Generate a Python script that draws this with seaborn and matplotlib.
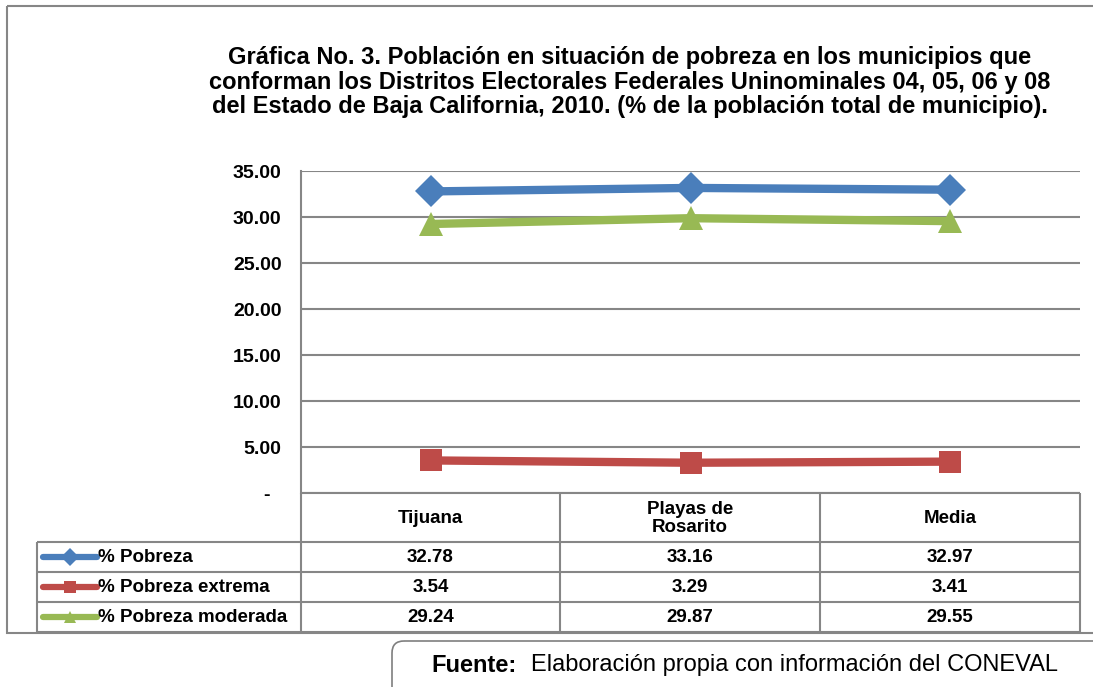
import matplotlib
matplotlib.use("Agg")
import matplotlib.pyplot as plt
import seaborn as sns
from matplotlib.patches import Rectangle, FancyBboxPatch

sns.set_style("white")
plt.rcParams["font.family"] = ["Liberation Sans", "DejaVu Sans"]
plt.rcParams["text.color"] = "black"
plt.rcParams["ytick.color"] = "black"

# data
municipios = ["Tijuana", "Playas de\nRosarito", "Media"]
series_names = ["% Pobreza", "% Pobreza extrema", "% Pobreza moderada"]
pobreza = [32.78, 33.16, 32.97]
pobreza_extrema = [3.54, 3.29, 3.41]
pobreza_moderada = [29.24, 29.87, 29.55]
y_ticks = [0, 5, 10, 15, 20, 25, 30, 35]

series_values = [pobreza, pobreza_extrema, pobreza_moderada]
colors = ["#4A7EBB", "#BE4B48", "#98B954"]
markers = ["D", "s", "^"]
msizes = [16, 16, 17]

W, H = 1093, 687
fig = plt.figure(figsize=(W / 100, H / 100), dpi=100)

def box(x0, y0, x1, y1):
    return [x0 / W, 1 - y1 / H, (x1 - x0) / W, (y1 - y0) / H]

# overlay in pixel coordinates for frame, table and notes
ov = fig.add_axes([0, 0, 1, 1])
ov.set_xlim(0, W)
ov.set_ylim(H, 0)
ov.axis("off")

gray = "#868686"
ov.add_patch(Rectangle((7, 6), W, 627, fill=False, ec=gray, lw=1.5))

# main plot
ax = fig.add_axes(box(301, 171, 1080, 493))
for name, vals, c, m, ms in zip(series_names, series_values, colors, markers, msizes):
    sns.lineplot(x=municipios, y=vals, ax=ax, color=c, lw=6, marker=m,
                 markersize=ms, markeredgewidth=0, sort=False, label=name,
                 legend=False)
ax.set_xlim(-0.5, 2.5)
ax.set_ylim(0, 35)
ax.set_yticks(y_ticks)
ax.set_yticklabels([f"{v:.2f}" if v else "-  " for v in y_ticks],
                   fontweight="bold", fontsize=14)
ax.tick_params(axis="y", length=0, pad=14, labelcolor="black")
ax.set_xticks([])
ax.grid(axis="y", color=gray, lw=1.5)
ax.set_axisbelow(True)
for s in ["top", "right", "bottom"]:
    ax.spines[s].set_visible(False)
ax.spines["left"].set_color(gray)
ax.spines["left"].set_linewidth(1.5)
ax.set_xlabel("")
ax.set_ylabel("")
ax.patch.set_alpha(0)

# title
ov.text(630, 82, "Gráfica No. 3. Población en situación de pobreza en los municipios que\n"
        "conforman los Distritos Electorales Federales Uninominales 04, 05, 06 y 08\n"
        "del Estado de Baja California, 2010. (% de la población total de municipio).",
        ha="center", va="center", fontsize=17, fontweight="bold", linespacing=1.08)

# data table
cols = [301, 560, 820, 1080]
rows = [493, 542, 572, 602, 632]
kw = dict(color=gray, lw=1.5)
ov.hlines(rows[1:], 37, cols[-1], **kw)
ov.hlines(rows[0], cols[0], cols[-1], **kw)
ov.vlines(cols, rows[0], rows[-1], **kw)
ov.vlines(37, rows[1], rows[-1], **kw)

for j, name in enumerate(municipios):
    xc = (cols[j] + cols[j + 1]) / 2
    ov.text(xc, (rows[0] + rows[1]) / 2 + 1, name, ha="center", va="center",
            fontsize=13.5, fontweight="bold", linespacing=1.0)

for i, (name, vals, c, m) in enumerate(zip(series_names, series_values, colors, markers)):
    yc = (rows[i + 1] + rows[i + 2]) / 2
    ov.plot([43, 97], [yc, yc], color=c, lw=4.5, solid_capstyle="round")
    ov.plot([70], [yc], marker=m, color=c, markersize=9, markeredgewidth=0)
    ov.text(98, yc + 1, name, ha="left", va="center", fontsize=13.5, fontweight="bold")
    for j, v in enumerate(vals):
        xc = (cols[j] + cols[j + 1]) / 2
        ov.text(xc, yc + 1, f"{v:.2f}", ha="center", va="center", fontsize=13.5,
                fontweight="bold")

# source note
ov.add_patch(FancyBboxPatch((392, 641), 760, 80, boxstyle="round,pad=0,rounding_size=12",
                            fill=False, ec="#7F7F7F", lw=1.2))
ov.text(431, 665, "Fuente:", ha="left", va="center", fontsize=17, fontweight="bold")
ov.text(531, 665, "Elaboración propia con información del CONEVAL", ha="left",
        va="center", fontsize=17)

fig.savefig("out.png", dpi=100)
